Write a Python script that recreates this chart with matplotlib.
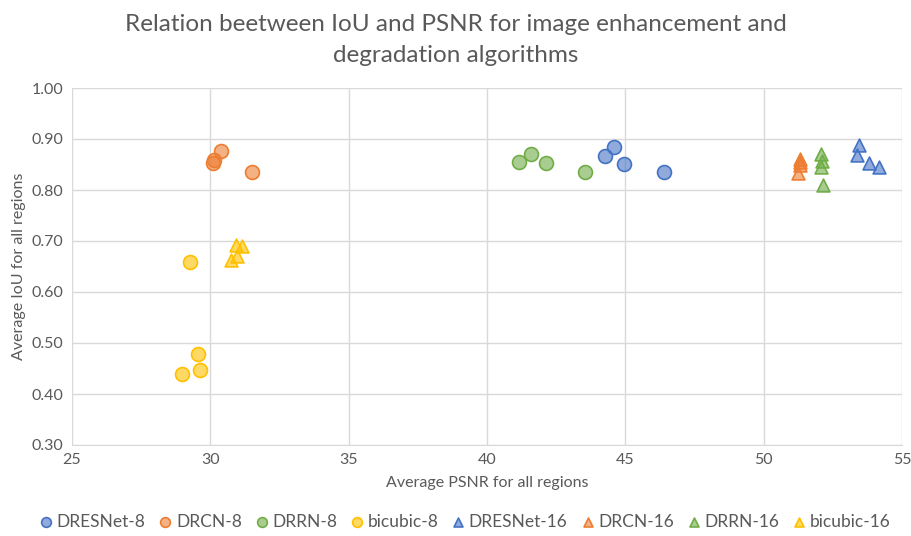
import matplotlib.pyplot as plt

plt.rcParams['font.family'] = ['Lato', 'DejaVu Sans']

# (PSNR, IoU) points
dresnet8_x = [44.26, 44.60, 44.96, 46.41]
dresnet8_y = [0.866, 0.884, 0.851, 0.835]
drcn8_x = [30.38, 30.13, 30.10, 31.50]
drcn8_y = [0.876, 0.859, 0.852, 0.836]
drrn8_x = [41.15, 41.59, 42.14, 43.56]
drrn8_y = [0.855, 0.871, 0.852, 0.835]
bicubic8_x = [29.27, 29.56, 29.62, 28.99]
bicubic8_y = [0.659, 0.478, 0.447, 0.440]

dresnet16_x = [53.46, 53.37, 53.79, 54.18]
dresnet16_y = [0.888, 0.868, 0.852, 0.845]
drcn16_x = [51.31, 51.30, 51.32, 51.24]
drcn16_y = [0.860, 0.855, 0.850, 0.834]
drrn16_x = [52.07, 52.12, 52.09, 52.14]
drrn16_y = [0.871, 0.857, 0.845, 0.810]
bicubic16_x = [30.93, 31.14, 30.96, 30.75]
bicubic16_y = [0.692, 0.690, 0.671, 0.663]

series = [
    ("DRESNet-8", dresnet8_x, dresnet8_y, "o", "#4472C4"),
    ("DRCN-8", drcn8_x, drcn8_y, "o", "#ED7D31"),
    ("DRRN-8", drrn8_x, drrn8_y, "o", "#70AD47"),
    ("bicubic-8", bicubic8_x, bicubic8_y, "o", "#FFC000"),
    ("DRESNet-16", dresnet16_x, dresnet16_y, "^", "#4472C4"),
    ("DRCN-16", drcn16_x, drcn16_y, "^", "#ED7D31"),
    ("DRRN-16", drrn16_x, drrn16_y, "^", "#70AD47"),
    ("bicubic-16", bicubic16_x, bicubic16_y, "^", "#FFC000"),
]

fig = plt.figure(figsize=(9.12, 5.36), dpi=100)
ax = fig.add_axes([72 / 912, 1 - 445 / 536, 830 / 912, 357 / 536])

for name, xs, ys, mk, col in series:
    size = 100 if mk == "o" else 85
    ax.scatter(xs, ys, marker=mk, s=size, facecolor=col + "99",
               edgecolor=col, linewidth=1.2, label=name, zorder=3)

ax.set_xlim(25, 55)
ax.set_ylim(0.30, 1.00)
ax.set_xticks(range(25, 56, 5))
ax.set_yticks([0.3 + 0.1 * i for i in range(8)])
ax.set_yticklabels([f"{0.3 + 0.1 * i:.2f}" for i in range(8)])
ax.grid(True, color="#D9D9D9", linewidth=1, zorder=0)
ax.set_axisbelow(True)
for s in ["top", "right", "left"]:
    ax.spines[s].set_visible(False)
ax.spines["bottom"].set_color("#D9D9D9")
ax.tick_params(length=0, labelsize=11.5, colors="#595959", pad=6)

ax.set_xlabel("Average PSNR for all regions", fontsize=11.5, color="#595959", labelpad=6)
ax.set_ylabel("Average IoU for all regions", fontsize=11.5, color="#595959", labelpad=4)

fig.text(0.5, 1 - 40 / 536,
         "Relation beetween IoU and PSNR for image enhancement and\ndegradation algorithms",
         ha="center", va="center", fontsize=17.5, color="#595959", linespacing=1.6)

fig.legend(loc="center", bbox_to_anchor=(0.51, 1 - 522 / 536), ncol=8,
           frameon=False, fontsize=12.5, labelcolor="#595959",
           handlelength=0.7, handletextpad=0.25, columnspacing=0.8,
           markerscale=0.7)

fig.savefig("out.png", dpi=100)
